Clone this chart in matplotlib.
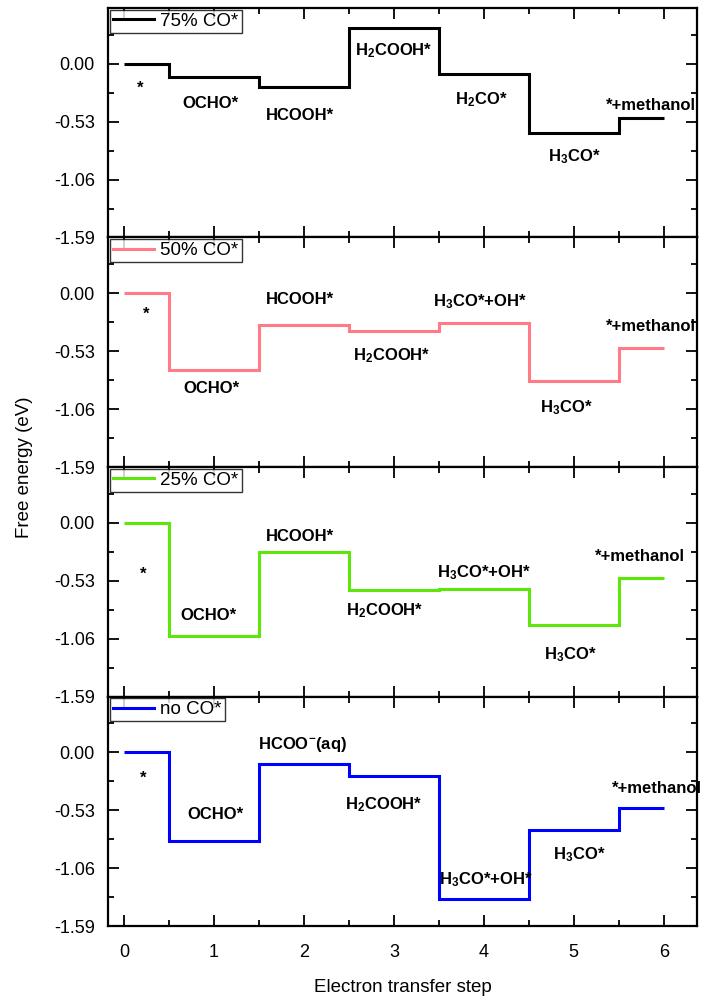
import matplotlib
matplotlib.use("Agg")
import matplotlib.pyplot as plt
from matplotlib.ticker import MultipleLocator, FixedLocator

plt.rcParams['font.family'] = ['Liberation Sans', 'DejaVu Sans']
plt.rcParams['axes.unicode_minus'] = False
plt.rcParams['mathtext.fontset'] = 'custom'
plt.rcParams['mathtext.rm'] = 'Liberation Sans'
plt.rcParams['mathtext.bf'] = 'Liberation Sans:bold'
plt.rcParams['mathtext.it'] = 'Liberation Sans:italic'

# ---- data ----
step_edges = [0, 0.5, 1.5, 2.5, 3.5, 4.5, 5.5, 6]
series_names = ['75% CO*', '50% CO*', '25% CO*', 'no CO*']
series_colors = ['#000000', '#ff7b88', '#5ee60a', '#0000ff']
energy_75 = [0.00, -0.12, -0.21, 0.33, -0.09, -0.63, -0.50]
energy_50 = [0.00, -0.70, -0.29, -0.35, -0.27, -0.80, -0.50]
energy_25 = [0.00, -1.04, -0.27, -0.62, -0.61, -0.94, -0.51]
energy_no = [0.00, -0.81, -0.11, -0.22, -1.34, -0.71, -0.51]
all_energies = [energy_75, energy_50, energy_25, energy_no]

H2COOH = r'H$_{\mathbf{2}}$COOH*'
H2CO = r'H$_{\mathbf{2}}$CO*'
H3CO = r'H$_{\mathbf{3}}$CO*'
H3COOH = r'H$_{\mathbf{3}}$CO*+OH*'
HCOOaq = r'HCOO$^{\mathbf{-}}$(aq)'

labels_75 = [('*', 0.18, -0.22), ('OCHO*', 0.96, -0.36), ('HCOOH*', 1.96, -0.47),
             (H2COOH, 3.0, 0.12), (H2CO, 3.97, -0.33), (H3CO, 5.01, -0.85),
             ('*+methanol', 5.86, -0.38)]
labels_50 = [('*', 0.25, -0.19), ('OCHO*', 0.97, -0.87), ('HCOOH*', 1.96, -0.06),
             (H2COOH, 2.97, -0.57), (H3COOH, 3.96, -0.08), (H3CO, 4.92, -1.05),
             ('*+methanol', 5.86, -0.30)]
labels_25 = [('*', 0.21, -0.47), ('OCHO*', 0.94, -0.85), ('HCOOH*', 1.96, -0.13),
             (H2COOH, 2.9, -0.80), (H3COOH, 4.0, -0.46), (H3CO, 4.96, -1.21),
             ('*+methanol', 5.73, -0.31)]
labels_no = [('*', 0.21, -0.24), ('OCHO*', 1.01, -0.57), (HCOOaq, 1.98, 0.07),
             (H2COOH, 2.89, -0.48), (H3COOH, 4.02, -1.17), (H3CO, 5.06, -0.94),
             ('*+methanol', 5.92, -0.33)]
all_labels = [labels_75, labels_50, labels_25, labels_no]

y_ticks = [0.00, -0.53, -1.06, -1.59]
x_ticks = [0, 1, 2, 3, 4, 5, 6]

fig = plt.figure(figsize=(7.07, 9.97), dpi=100)
left, right = 108 / 707, 697 / 707
top_px, bot_px = 8, 926
ph = (bot_px - top_px) / 4

for i in range(4):
    y0 = 1 - (top_px + (i + 1) * ph) / 997
    ax = fig.add_axes([left, y0, right - left, ph / 997])
    ax.stairs(all_energies[i], step_edges, baseline=None, color=series_colors[i],
              linewidth=2.2, label=series_names[i])
    for txt, x, y in all_labels[i]:
        ax.text(x, y, txt, ha='center', va='center', fontsize=12, fontweight='bold')
    ax.set_xlim(-0.18, 6.37)
    ax.set_ylim(-1.59, 0.51)
    ax.yaxis.set_major_locator(FixedLocator(y_ticks))
    ax.yaxis.set_minor_locator(FixedLocator([0.265, -0.265, -0.795, -1.325]))
    ax.set_yticklabels(['%.2f' % v for v in y_ticks])
    ax.xaxis.set_major_locator(FixedLocator(x_ticks))
    ax.xaxis.set_minor_locator(MultipleLocator(0.5))
    ax.tick_params(which='both', direction='in', top=True, right=True, width=1.3)
    ax.tick_params(which='major', length=8, labelsize=13)
    ax.tick_params(which='minor', length=4.3)
    ax.tick_params(axis='y', which='major', pad=9.5)
    for s in ax.spines.values():
        s.set_linewidth(1.6)
    if i < 3:
        ax.tick_params(labelbottom=False)
    else:
        ax.set_xticklabels([str(v) for v in x_ticks])
        ax.tick_params(axis='x', which='major', pad=13)
        ax.set_xlabel('Electron transfer step', fontsize=13.5, labelpad=13)
    leg = ax.legend(loc='upper left', fontsize=13.5, frameon=True, fancybox=False,
                    borderaxespad=0.1, handlelength=2.2, handletextpad=0.35,
                    borderpad=0.15)
    leg.get_frame().set_edgecolor('black')
    leg.get_frame().set_linewidth(1.0)

fig.text(0.034, 1 - ((top_px + bot_px) / 2) / 997, 'Free energy (eV)', rotation=90,
         ha='center', va='center', fontsize=13.5)

fig.savefig('out.png', dpi=100)
